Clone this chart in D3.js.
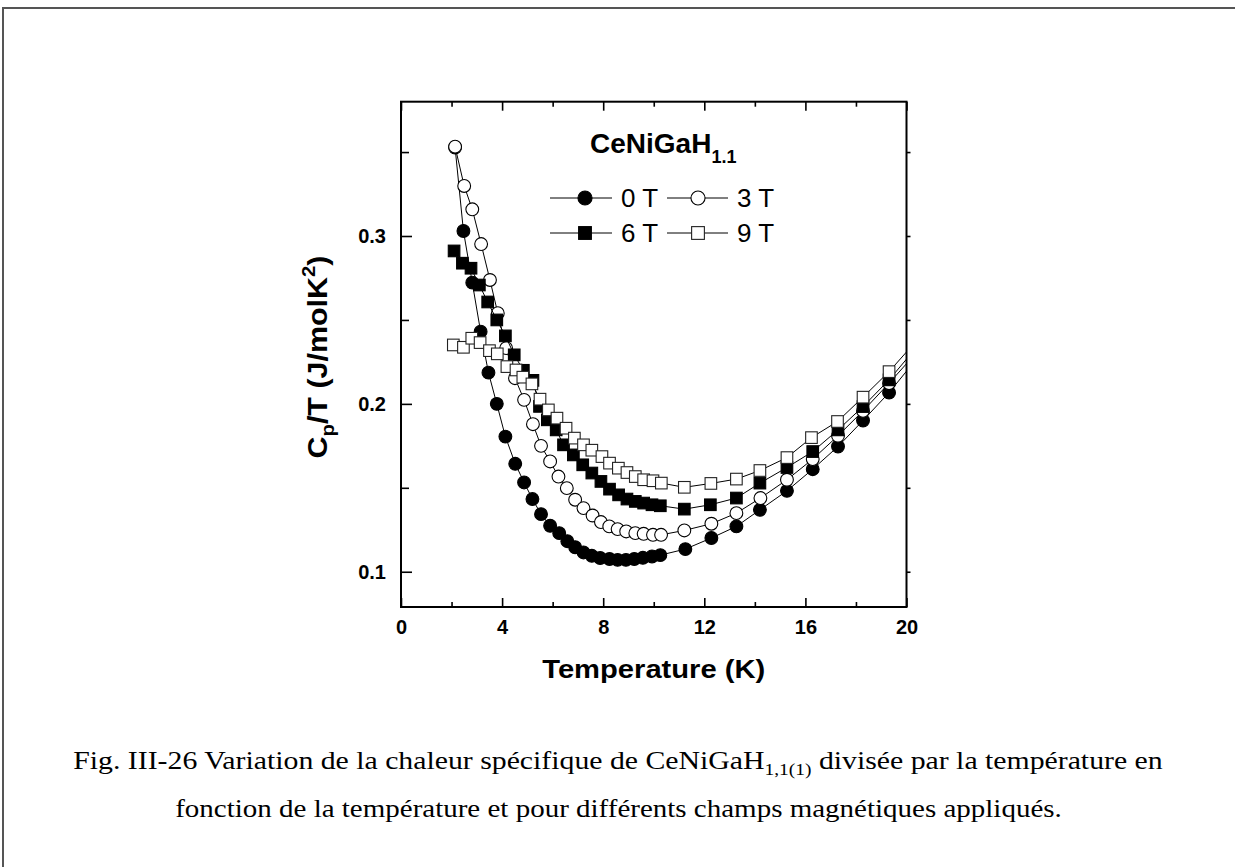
<!DOCTYPE html>
<html><head><meta charset="utf-8">
<script src="https://cdn.jsdelivr.net/npm/d3@7"></script>
<style>body{margin:0;background:#fff} svg{display:block}</style>
</head><body>
<svg id="c" width="1235" height="867"></svg>
<script>
const xTicksMajor=[0,4,8,12,16,20];
const xTicksMinor=[2,6,10,14,18];
const yTicksMajor=[0.1,0.2,0.3];
const yTicksMinor=[0.15,0.25,0.35];
const seriesLabels=["0 T","3 T","6 T","9 T"];

const t0=[2.14,2.47,2.82,3.15,3.46,3.79,4.13,4.52,4.87,5.2,5.54,5.9,6.26,6.58,6.89,7.22,7.55,7.88,8.25,8.57,8.9,9.23,9.57,9.93,10.26,11.25,12.28,13.27,14.2,15.27,16.29,17.29,18.28,19.31,20.3];
const cp0=[0.3527,0.3030,0.2722,0.2430,0.2186,0.2000,0.1805,0.1643,0.1532,0.1433,0.1343,0.1274,0.1230,0.1182,0.1146,0.1115,0.1095,0.1082,0.1076,0.1071,0.1071,0.1076,0.1083,0.1091,0.1099,0.1135,0.1201,0.1270,0.1369,0.1482,0.1611,0.1746,0.1901,0.2067,0.225];

const t3=[2.14,2.5,2.82,3.17,3.52,3.83,4.16,4.51,4.87,5.22,5.54,5.9,6.23,6.56,6.89,7.22,7.58,7.91,8.24,8.57,8.91,9.27,9.6,9.97,10.29,11.21,12.28,13.27,14.22,15.27,16.29,17.29,18.28,19.31,20.3];
const cp3=[0.3532,0.3298,0.3159,0.2952,0.2738,0.2540,0.2332,0.2153,0.2024,0.1879,0.1750,0.1657,0.1567,0.1498,0.1429,0.1379,0.1335,0.1296,0.1270,0.1254,0.1240,0.1230,0.1226,0.1220,0.1220,0.1246,0.1286,0.1349,0.1439,0.1548,0.1671,0.1810,0.1958,0.2123,0.229];

const t6=[2.10,2.43,2.77,3.10,3.43,3.79,4.13,4.48,4.84,5.22,5.48,5.79,6.14,6.43,6.82,7.19,7.55,7.91,8.25,8.61,8.94,9.27,9.6,9.93,10.26,11.21,12.24,13.27,14.2,15.27,16.29,17.29,18.28,19.31,20.3];
const cp6=[0.2911,0.2838,0.2808,0.2708,0.2607,0.2500,0.2405,0.2292,0.2200,0.2140,0.1985,0.1905,0.1845,0.1756,0.1696,0.1637,0.1588,0.1538,0.1492,0.1458,0.1433,0.1419,0.1409,0.1399,0.1393,0.1373,0.1399,0.1439,0.1528,0.1621,0.1716,0.1845,0.1984,0.2143,0.232];

const t9=[2.07,2.47,2.8,3.13,3.5,3.81,4.19,4.55,4.82,5.18,5.5,5.83,6.17,6.53,6.86,7.22,7.55,7.95,8.25,8.6,8.94,9.27,9.6,9.97,10.3,11.21,12.26,13.27,14.2,15.27,16.24,17.27,18.28,19.31,20.3];
const cp9=[0.2351,0.2337,0.2391,0.2365,0.2317,0.2298,0.2222,0.2202,0.2159,0.2119,0.2028,0.1964,0.1915,0.1855,0.1796,0.1756,0.1724,0.1686,0.1647,0.1617,0.1591,0.1567,0.1548,0.1542,0.1528,0.1503,0.1526,0.1552,0.1603,0.1680,0.1799,0.1895,0.2040,0.2192,0.236];

const svg=d3.select("#c");
const L=401,R=906.5,T=101.7,B=607;
const x=d3.scaleLinear().domain([0,20]).range([L,R]);
const y=d3.scaleLinear().domain([0.079,0.38]).range([B,T]);

// stretch a text horizontally (in its own frame) so it spans the target width, centred on cx
function fitWidth(sel,target){
  const w=sel.node().getComputedTextLength();
  const k=target/w;
  const prev=sel.attr("transform")||"";
  const cx=+sel.attr("x");
  sel.attr("transform",prev+` translate(${cx},0) scale(${k},1) translate(${-cx},0)`);
}

// outer page border
svg.append("path").attr("d","M3,880 L3,8 L1240,8").attr("fill","none").attr("stroke","#555").attr("stroke-width",2);

const font="Arial, 'Liberation Sans', sans-serif";

svg.append("clipPath").attr("id","clip").append("rect").attr("x",L).attr("y",T).attr("width",R-L).attr("height",B-T);

function styleAxis(g){g.select(".domain").remove();g.selectAll("line").attr("stroke","#000").attr("stroke-width",1.6);}
svg.append("g").attr("transform",`translate(0,${B})`)
  .call(d3.axisBottom(x).tickValues(xTicksMajor).tickSizeInner(-9).tickSizeOuter(0).tickPadding(13).tickFormat(d3.format("d")))
  .call(styleAxis)
  .call(g=>g.selectAll("text").attr("font-family",font).attr("font-weight","bold").attr("font-size",20).attr("fill","#000"));
svg.append("g").attr("transform",`translate(0,${B})`)
  .call(d3.axisBottom(x).tickValues(xTicksMinor).tickSizeInner(-5).tickSizeOuter(0).tickFormat(""))
  .call(styleAxis);
svg.append("g").attr("transform",`translate(0,${T})`)
  .call(d3.axisTop(x).tickValues(xTicksMajor).tickSizeInner(-9).tickSizeOuter(0).tickFormat(""))
  .call(styleAxis);
svg.append("g").attr("transform",`translate(0,${T})`)
  .call(d3.axisTop(x).tickValues(xTicksMinor).tickSizeInner(-5).tickSizeOuter(0).tickFormat(""))
  .call(styleAxis);
svg.append("g").attr("transform",`translate(${L},0)`)
  .call(d3.axisLeft(y).tickValues(yTicksMajor).tickSizeInner(-11).tickSizeOuter(0).tickPadding(15).tickFormat(d3.format(".1f")))
  .call(styleAxis)
  .call(g=>g.selectAll("text").attr("font-family",font).attr("font-weight","bold").attr("font-size",20).attr("fill","#000"));
svg.append("g").attr("transform",`translate(${L},0)`)
  .call(d3.axisLeft(y).tickValues(yTicksMinor).tickSizeInner(-8).tickSizeOuter(0).tickFormat(""))
  .call(styleAxis);
svg.append("g").attr("transform",`translate(${R},0)`)
  .call(d3.axisRight(y).tickValues(yTicksMajor.concat(yTicksMinor)).tickSizeInner(4).tickSizeOuter(0).tickFormat(""))
  .call(styleAxis);

svg.append("rect").attr("x",L).attr("y",T).attr("width",R-L).attr("height",B-T).attr("fill","none").attr("stroke","#000").attr("stroke-width",2);

const series=[
  {t:t0,v:cp0,shape:"circle",fill:"#000"},
  {t:t3,v:cp3,shape:"circle",fill:"#fff"},
  {t:t6,v:cp6,shape:"square",fill:"#000"},
  {t:t9,v:cp9,shape:"square",fill:"#fff"}
];
const line=d3.line().x(d=>x(d[0])).y(d=>y(d[1]));
const plot=svg.append("g").attr("clip-path","url(#clip)");
function marker(g,shape,fill,cx,cy,scale){
  if(shape==="circle"){
    g.append("circle").attr("cx",cx).attr("cy",cy).attr("r",6.4*scale).attr("fill",fill).attr("stroke","#000").attr("stroke-width",1.1);
  } else {
    const s=11.6*scale;
    g.append("rect").attr("x",cx-s/2).attr("y",cy-s/2).attr("width",s).attr("height",s).attr("fill",fill).attr("stroke",fill==="#000"?"#000":"#222").attr("stroke-width",1.1);
  }
}
series.forEach(s=>{
  const pts=s.t.map((t,i)=>[t,s.v[i]]);
  const g=plot.append("g");
  g.append("path").attr("d",line(pts)).attr("fill","none").attr("stroke","#000").attr("stroke-width",1);
  pts.forEach(p=>marker(g,s.shape,s.fill,x(p[0]),y(p[1]),1));
});

// legend
const lg=svg.append("g");
const title=lg.append("text").attr("x",590).attr("y",153).attr("font-family",font).attr("font-weight","bold").attr("font-size",28).attr("fill","#000");
title.append("tspan").text("CeNiGaH");
title.append("tspan").attr("font-size",18).attr("dy",10).text("1.1");
const legPos=[[550,612,585,198],[667,728,698,198],[550,612,585,233],[667,728,698,233]];
series.forEach((s,i)=>{
  const p=legPos[i];
  lg.append("line").attr("x1",p[0]).attr("x2",p[1]).attr("y1",p[3]).attr("y2",p[3]).attr("stroke","#000").attr("stroke-width",1);
  marker(lg,s.shape,s.fill,p[2],p[3],1.1);
  lg.append("text").attr("x",p[1]+9).attr("y",p[3]+9).attr("font-family",font).attr("font-size",26).attr("fill","#000").text(seriesLabels[i]);
});

// axis titles
const xt=svg.append("text").attr("x",(L+R)/2).attr("y",678).attr("text-anchor","middle").attr("font-family",font).attr("font-weight","bold").attr("font-size",26).attr("fill","#000").text("Temperature (K)");
fitWidth(xt,223);
const yl=svg.append("text").attr("x",0).attr("y",0).attr("transform",`translate(327,357) rotate(-90)`).attr("text-anchor","middle").attr("font-family",font).attr("font-weight","bold").attr("font-size",27).attr("fill","#000");
yl.append("tspan").text("C");
yl.append("tspan").attr("font-size",18).attr("dy",7).text("p");
yl.append("tspan").attr("dy",-7).text("/T  (J/molK");
yl.append("tspan").attr("font-size",18).attr("dy",-12).text("2");
yl.append("tspan").attr("dy",12).text(")");
fitWidth(yl,203);

// caption
const serif="'Liberation Serif','Times New Roman',serif";
const c1=svg.append("text").attr("x",618).attr("y",769).attr("text-anchor","middle").attr("font-family",serif).attr("font-size",26).attr("fill","#000");
c1.append("tspan").text("Fig. III-26 Variation de la chaleur spécifique de CeNiGaH");
c1.append("tspan").attr("font-size",17).attr("dy",6).text("1,1(1)");
c1.append("tspan").attr("dy",-6).text(" divisée par la température en");
fitWidth(c1,1090);
const c2=svg.append("text").attr("x",618.5).attr("y",817).attr("text-anchor","middle").attr("font-family",serif).attr("font-size",26).attr("fill","#000")
  .text("fonction de la température et pour différents champs magnétiques appliqués.");
fitWidth(c2,887);
</script>
</body></html>
